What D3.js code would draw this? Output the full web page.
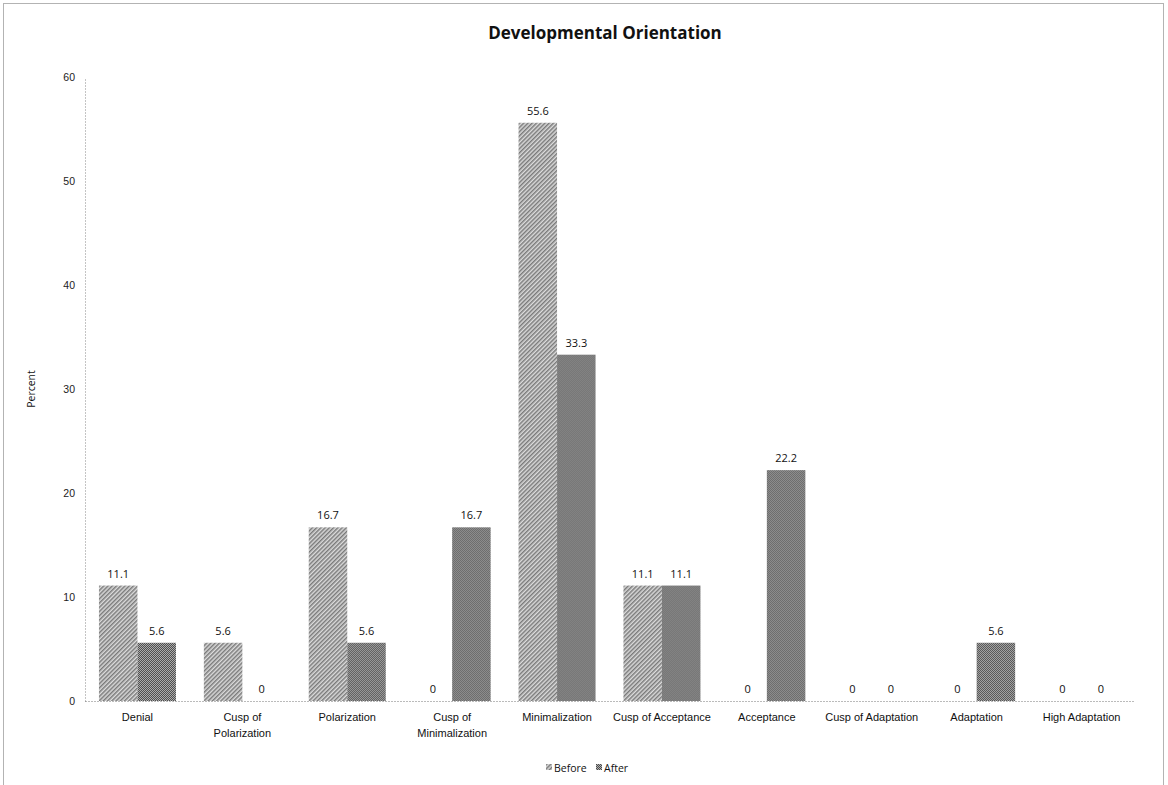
<!DOCTYPE html>
<html><head><meta charset="utf-8">
<script src="https://cdn.jsdelivr.net/npm/d3@7"></script>
<style>
html,body{margin:0;padding:0;background:#fff;}
svg{display:block;font-family:"Open Sans","Liberation Sans",sans-serif;}
</style></head>
<body><svg id="c" width="1168" height="785"></svg>
<script>
const categories = [["Denial"],["Cusp of","Polarization"],["Polarization"],["Cusp of","Minimalization"],["Minimalization"],["Cusp of Acceptance"],["Acceptance"],["Cusp of Adaptation"],["Adaptation"],["High Adaptation"]];
const seriesNames = ["Before","After"];
const before = [11.1,5.6,16.7,0,55.6,11.1,0,0,0,0];
const after  = [5.6,0,5.6,16.7,33.3,11.1,22.2,0,5.6,0];
const yTicks = [0,10,20,30,40,50,60];

(function(){
const svg = d3.select("#c");
const defs = svg.append("defs");
const p1 = defs.append("pattern").attr("id","pBefore").attr("patternUnits","userSpaceOnUse").attr("width",3).attr("height",3).attr("patternTransform","rotate(45)");
p1.append("rect").attr("width",3).attr("height",3).attr("fill","#dcdcdc");
p1.append("rect").attr("width",1.5).attr("height",3).attr("fill","#7a7a7a");
const p2 = defs.append("pattern").attr("id","pAfter").attr("patternUnits","userSpaceOnUse").attr("width",2).attr("height",2);
p2.append("rect").attr("width",2).attr("height",2).attr("fill","#b0b0b0");
p2.append("rect").attr("width",1).attr("height",1).attr("fill","#4a4a4a");
p2.append("rect").attr("x",1).attr("y",1).attr("width",1).attr("height",1).attr("fill","#4a4a4a");
const fills = {"Before":"url(#pBefore)","After":"url(#pAfter)"};

svg.append("rect").attr("x",3.5).attr("y",3.5).attr("width",1160).attr("height",790)
  .attr("fill","none").attr("stroke","#666").attr("stroke-width",1).attr("stroke-dasharray","1,1");

svg.append("text").attr("x",605).attr("y",39).attr("text-anchor","middle")
  .attr("font-size",17).attr("font-weight","bold").attr("fill","#111").text("Developmental Orientation");

const pL=85, pR=1134, pT=77, pB=701;
const keys = categories.map(c=>c.join(" "));
const x = d3.scaleBand().domain(keys).range([pL,pR]).paddingInner(0.266).paddingOuter(0.133);
const xs = d3.scaleBand().domain(seriesNames).range([0,x.bandwidth()]);
const y = d3.scaleLinear().domain([0,60]).range([pB,pT]);

const ya = svg.append("g").attr("transform",`translate(${pL},0)`)
  .call(d3.axisLeft(y).tickValues(yTicks).tickSize(0).tickPadding(10).tickFormat(d3.format("d")));
ya.select(".domain").attr("stroke","#888").attr("stroke-dasharray","1,2");
ya.selectAll("text").attr("font-size",10.5).attr("fill","#222");

svg.append("text").attr("transform",`translate(35,${(pT+pB)/2}) rotate(-90)`)
  .attr("text-anchor","middle").attr("font-size",10.5).attr("fill","#111").text("Percent");

const rows = keys.map((k,i)=>({k, vals:[{s:"Before",v:before[i]},{s:"After",v:after[i]}]}));
const g = svg.append("g").selectAll("g").data(rows).join("g").attr("transform",d=>`translate(${x(d.k)},0)`);
g.selectAll("rect").data(d=>d.vals).join("rect")
  .attr("x",d=>xs(d.s)).attr("width",xs.bandwidth())
  .attr("y",d=>y(d.v)).attr("height",d=>y(0)-y(d.v))
  .attr("fill",d=>fills[d.s]);
g.selectAll("text").data(d=>d.vals).join("text")
  .attr("x",d=>xs(d.s)+xs.bandwidth()/2).attr("y",d=>y(d.v)-8)
  .attr("text-anchor","middle").attr("font-size",11).attr("fill","#111")
  .text(d=>d.v===0?"0":d3.format(".1f")(d.v));

const xa = svg.append("g").attr("transform",`translate(0,${pB})`)
  .call(d3.axisBottom(x).tickSize(0).tickPadding(12));
xa.select(".domain").attr("stroke","#777").attr("stroke-dasharray","1,2");
xa.selectAll(".tick text").each(function(d,i){
  const t=d3.select(this); t.text(null).attr("font-size",11).attr("fill","#111");
  categories[i].forEach((line,j)=>t.append("tspan").attr("x",0).attr("dy",j===0?"0.71em":"1.45em").text(line));
});

const legend = [{s:"Before",x:546},{s:"After",x:596}];
const lg = svg.append("g").selectAll("g").data(legend).join("g").attr("transform",d=>`translate(${d.x},768)`);
lg.append("rect").attr("x",0).attr("y",-4).attr("width",6).attr("height",6).attr("fill",d=>fills[d.s]);
lg.append("text").attr("x",8).attr("y",0).attr("dy","0.35em").attr("font-size",10.5).attr("fill","#111").text(d=>d.s);
})();
</script></body></html>
